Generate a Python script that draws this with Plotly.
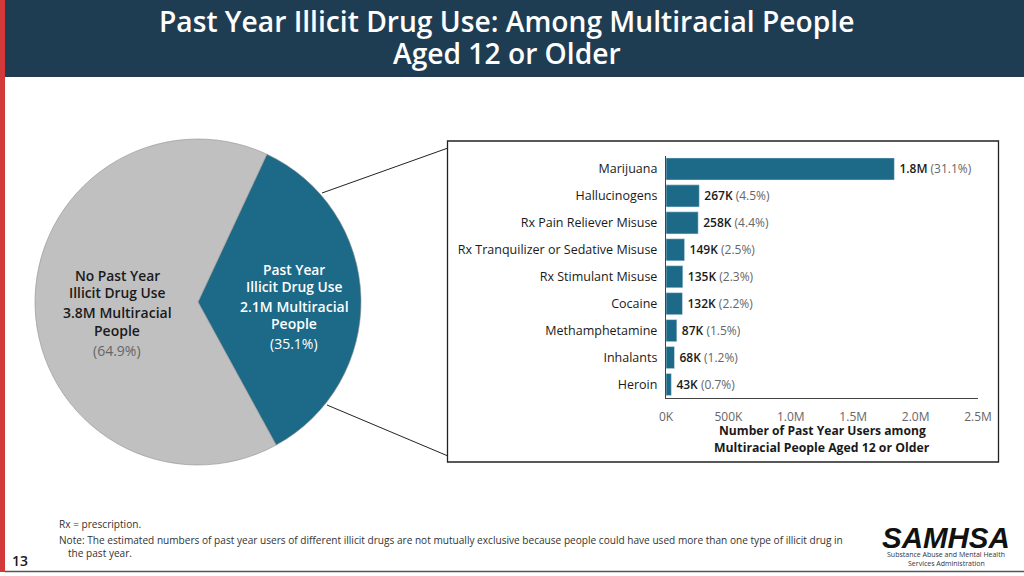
import plotly.graph_objects as go

W, H = 1024, 576

pie_labels = ["Past Year Illicit Drug Use", "No Past Year Illicit Drug Use"]
pie_values = [35.1, 64.9]

drugs = [
    "Marijuana",
    "Hallucinogens",
    "Rx Pain Reliever Misuse",
    "Rx Tranquilizer or Sedative Misuse",
    "Rx Stimulant Misuse",
    "Cocaine",
    "Methamphetamine",
    "Inhalants",
    "Heroin",
]
users = [1830000, 267000, 258000, 149000, 135000, 132000, 87000, 68000, 43000]
user_labels = ["1.8M", "267K", "258K", "149K", "135K", "132K", "87K", "68K", "43K"]
pct_labels = ["31.1%", "4.5%", "4.4%", "2.5%", "2.3%", "2.2%", "1.5%", "1.2%", "0.7%"]
x_ticks = [0, 500000, 1000000, 1500000, 2000000, 2500000]
x_tick_labels = ["0K", "500K", "1.0M", "1.5M", "2.0M", "2.5M"]

TEAL = "#1c6a88"
GREY = "#c0c0c0"
NAVY = "#1f3d52"
RED = "#d23a3a"
DARK = "#1a1a1a"
MUTED = "#666666"
FONT = "Open Sans"


def px(x):
    return x / W


def py(y):
    return 1 - y / H


def label(text, x, y, size=12, color=DARK, weight=400, anchor="center", family=FONT):
    return dict(
        text=text, x=px(x), y=py(y), xref="paper", yref="paper",
        xanchor=anchor, yanchor="middle", showarrow=False,
        font=dict(size=size, color=color, family=family, weight=weight),
    )


def line(x0, y0, x1, y1, color="#222222", width=1):
    return dict(
        type="line", xref="paper", yref="paper",
        x0=px(x0), y0=py(y0), x1=px(x1), y1=py(y1),
        line=dict(color=color, width=width),
    )


def rect(x0, y0, x1, y1, fill, border=None):
    return dict(
        type="rect", xref="paper", yref="paper",
        x0=px(x0), y0=py(y0), x1=px(x1), y1=py(y1),
        fillcolor=fill, line=dict(color=border or fill, width=1.3 if border else 0),
        layer="below",
    )


fig = go.Figure()

fig.add_trace(
    go.Pie(
        labels=pie_labels,
        values=pie_values,
        sort=False,
        direction="clockwise",
        rotation=25,
        textinfo="none",
        hoverinfo="skip",
        showlegend=False,
        marker=dict(colors=[TEAL, GREY], line=dict(color="#8f8f8f", width=0.6)),
        domain=dict(x=[px(35), px(361)], y=[py(465), py(139)]),
    )
)

# thin space up front: labels sit a bit further off the bar ends than plotly's default
bar_text = [
    f"\u2009<span style='font-weight:600;color:{DARK}'>{u}</span> <span style='color:{MUTED}'>({p})</span>"
    for u, p in zip(user_labels, pct_labels)
]
fig.add_trace(
    go.Bar(
        x=users,
        y=drugs,
        orientation="h",
        marker_color=TEAL,
        text=bar_text,
        textposition="outside",
        textfont=dict(size=12, family=FONT),
        cliponaxis=False,
        hoverinfo="skip",
        showlegend=False,
    )
)

shapes = [
    rect(5, 0, W, 77, NAVY),
    rect(0, 0, 5, 572, RED),
    line(5, 571.5, W, 571.5, "#555555", 1.5),
    rect(447.5, 141, 998.5, 462, "white", "#222222"),
    line(322, 193, 448, 148),
    line(327, 405, 448, 456),
]

annotations = [
    label("Past Year Illicit Drug Use: Among Multiracial People", 506.5, 21, 28.2, "white", 600),
    label("Aged 12 or Older", 506.5, 53, 28.2, "white", 600),
    label("No Past Year", 117, 275, 13.8, DARK, 600),
    label("Illicit Drug Use", 117, 292, 13.8, DARK, 600),
    label("3.8M Multiracial", 117, 312.5, 14, DARK, 600),
    label("People", 117, 330, 14, DARK, 600),
    label("(64.9%)", 117, 350, 14, MUTED),
    label("Past Year", 294, 269, 13.8, "white", 600),
    label("Illicit Drug Use", 294, 286, 13.8, "white", 600),
    label("2.1M Multiracial", 294, 306, 14, "white", 600),
    label("People", 294, 323, 14, "white", 600),
    label("(35.1%)", 294, 343, 14, "white"),
    label("Number of Past Year Users among", 822, 430, 12.1, DARK, 700),
    label("Multiracial People Aged 12 or Older", 822, 447, 12.25, DARK, 700),
    label("Rx = prescription.", 57, 524, 10.1, "#333333", anchor="left"),
    label(
        "Note: The estimated numbers of past year users of different illicit drugs are not "
        "mutually exclusive because people could have used more than one type of illicit drug in",
        57, 540, 10.1, "#333333", anchor="left",
    ),
    label("the past year.", 66, 553, 10.1, "#333333", anchor="left"),
    label("13", 19.5, 560, 14, DARK, 600),
    label("<i>SAMHSA</i>", 946, 537, 29.5, "#111111", 700, family="Liberation Sans"),
    label("Substance Abuse and Mental Health", 946, 554, 7, "#333333"),
    label("Services Administration", 946, 563, 7, "#333333"),
]

fig.update_layout(
    width=W,
    height=H,
    margin=dict(l=0, r=0, t=0, b=0),
    paper_bgcolor="white",
    plot_bgcolor="rgba(0,0,0,0)",
    font=dict(family=FONT, color=DARK),
    bargap=0.18,
    shapes=shapes,
    annotations=annotations,
    xaxis=dict(
        domain=[px(666), px(978)],
        range=[0, 2500000],
        automargin=False,
        tickvals=x_ticks,
        ticktext=x_tick_labels,
        tickfont=dict(size=12, color=MUTED),
        ticks="outside",
        ticklen=7,
        tickcolor="rgba(0,0,0,0)",
        showgrid=False,
        zeroline=False,
        showline=True,
        linecolor="#444444",
        linewidth=1.2,
    ),
    yaxis=dict(
        domain=[py(398), py(155.5)],
        autorange="reversed",
        automargin=False,
        tickfont=dict(size=12.5, color=DARK),
        ticks="outside",
        ticklen=5,
        tickcolor="rgba(0,0,0,0)",
        showgrid=False,
        zeroline=False,
        showline=True,
        linecolor="#444444",
        linewidth=1.2,
    ),
)

fig.write_html(
    "out.html",
    config=dict(displayModeBar=False),
    post_script="document.body.style.margin='0';",
)
